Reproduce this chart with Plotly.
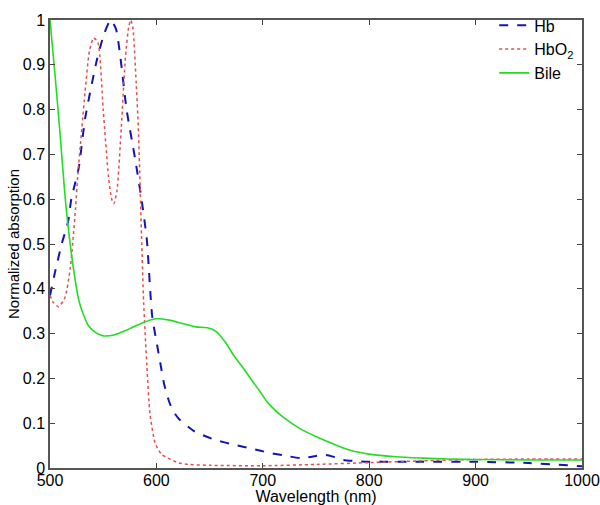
import plotly.graph_objects as go

# Hb (deoxy-haemoglobin)
wl_hb = [500, 505, 511, 517, 520, 527, 533, 544, 551, 557, 562, 566, 572, 580, 586, 591,
         596, 601, 604, 607, 611, 615, 621, 635, 642, 655, 673, 690, 704, 720, 736, 748,
         756, 765, 776, 790, 800, 850, 900, 950, 1000]
hb = [0.385, 0.44, 0.50, 0.55, 0.60, 0.67, 0.78, 0.91, 0.97, 1.0, 0.98, 0.92, 0.80, 0.69, 0.60, 0.51,
      0.34, 0.27, 0.23, 0.19, 0.155, 0.13, 0.11, 0.083, 0.075, 0.063, 0.052, 0.043, 0.035, 0.028, 0.022, 0.026,
      0.03, 0.026, 0.018, 0.015, 0.014, 0.014, 0.014, 0.011, 0.004]

# HbO2 (oxy-haemoglobin)
wl_hbo2 = [500, 503, 508, 514, 519, 522, 524, 526, 530, 533, 537, 541, 545, 550, 555, 558, 560,
           563, 567, 571, 574, 576, 578, 581, 583, 586, 588, 591, 594, 599, 605, 611, 620, 630,
           650, 700, 750, 800, 850, 900, 950, 1000]
hbo2 = [0.385, 0.37, 0.36, 0.38, 0.445, 0.52, 0.58, 0.65, 0.76, 0.84, 0.93, 0.96, 0.95, 0.80, 0.65, 0.60, 0.59,
        0.62, 0.76, 0.92, 0.985, 1.0, 0.98, 0.86, 0.76, 0.52, 0.37, 0.23, 0.12, 0.054, 0.03, 0.022, 0.012, 0.008,
        0.006, 0.005, 0.008, 0.012, 0.016, 0.019, 0.02, 0.02]

# Bile
wl_bile = [500, 505, 510, 514, 517, 520, 523, 527, 531, 536, 543, 550, 560, 574, 588, 600, 612, 625, 637,
           648, 656, 665, 673, 681, 689, 697, 704, 712, 720, 735, 752, 768, 783, 800, 825, 850, 875,
           900, 950, 1000]
bile = [1.0, 0.87, 0.73, 0.61, 0.54, 0.48, 0.43, 0.375, 0.345, 0.318, 0.302, 0.295, 0.297, 0.31, 0.325, 0.333, 0.33, 0.322, 0.315,
        0.313, 0.305, 0.28, 0.25, 0.225, 0.198, 0.172, 0.148, 0.128, 0.112, 0.088, 0.068, 0.052, 0.039, 0.031, 0.025, 0.022, 0.02,
        0.019, 0.018, 0.018]

x_ticks = [500, 600, 700, 800, 900, 1000]
y_ticks = [0, 0.1, 0.2, 0.3, 0.4, 0.5, 0.6, 0.7, 0.8, 0.9, 1]
y_labels = ["0", "0.1", "0.2", "0.3", "0.4", "0.5", "0.6", "0.7", "0.8", "0.9", "1"]

font = "Liberation Sans, Arial, sans-serif"

fig = go.Figure()
fig.add_trace(go.Scatter(x=wl_hb, y=hb, name="Hb", mode="lines",
                         line=dict(color="#1414b4", width=2, dash="dash", shape="spline", smoothing=0.6)))
fig.add_trace(go.Scatter(x=wl_hbo2, y=hbo2, name="HbO<sub>2</sub>", mode="lines",
                         line=dict(color="#e05050", width=1.5, dash="dot", shape="spline", smoothing=0.6)))
fig.add_trace(go.Scatter(x=wl_bile, y=bile, name="Bile", mode="lines",
                         line=dict(color="#22dd22", width=1.6, shape="spline", smoothing=0.8)))

axis_common = dict(showline=True, linecolor="#555555", linewidth=1.5, mirror="ticks",
                   ticks="inside", ticklen=5, tickcolor="#444444", showgrid=False, zeroline=False,
                   automargin=False, tickfont=dict(family=font, size=16, color="black"))

fig.update_xaxes(range=[500, 1000], tickvals=x_ticks,
                 title=dict(text="Wavelength (nm)", font=dict(family=font, size=16, color="black"), standoff=2),
                 ticklabelstandoff=-3, **axis_common)
fig.update_yaxes(range=[0, 1], tickvals=y_ticks, ticktext=y_labels,
                 title=dict(text="Normalized absorption", font=dict(family=font, size=15, color="black"), standoff=0),
                 **axis_common)

fig.update_layout(
    width=600, height=505,
    margin=dict(l=50, r=18, t=8, b=37),
    plot_bgcolor="white", paper_bgcolor="white",
    font=dict(family=font, size=14, color="black"),
    legend=dict(x=0.835, y=1.026, xanchor="left", yanchor="top", bgcolor="rgba(255,255,255,0)",
                font=dict(family=font, size=16, color="black"), tracegroupgap=0),
)

# the page's default body margin would push the figure 8px right and down
fig.write_html("out.html", config={"displayModeBar": False},
               post_script="document.body.style.margin='0';")
